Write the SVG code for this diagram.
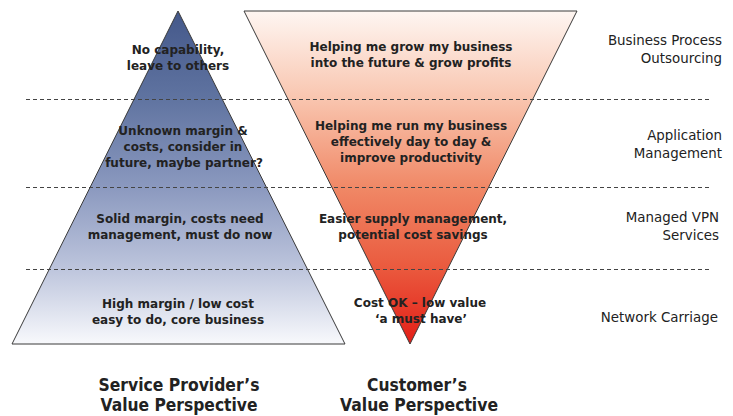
<svg xmlns="http://www.w3.org/2000/svg" width="733" height="416" viewBox="0 0 733 416">
  <defs>
    <linearGradient id="gradProvider" x1="0" y1="11" x2="0" y2="344" gradientUnits="userSpaceOnUse">
      <stop offset="0" stop-color="#44588a"/>
      <stop offset="0.26" stop-color="#5f73a0"/>
      <stop offset="0.53" stop-color="#8b99bf"/>
      <stop offset="0.77" stop-color="#bcc4dc"/>
      <stop offset="1" stop-color="#f8f9fc"/>
    </linearGradient>
    <linearGradient id="gradCustomer" x1="0" y1="11" x2="0" y2="344" gradientUnits="userSpaceOnUse">
      <stop offset="0" stop-color="#fef6f2"/>
      <stop offset="0.26" stop-color="#f9c6b0"/>
      <stop offset="0.53" stop-color="#f08866"/>
      <stop offset="0.77" stop-color="#ea5a3e"/>
      <stop offset="1" stop-color="#e31e17"/>
    </linearGradient>
    <style>
      .tri { stroke: #3a3a3a; stroke-width: 1; }
      .dash { stroke: #444; stroke-width: 1; stroke-dasharray: 4 3; fill: none; }
      .lbl { font-family: "DejaVu Sans", Verdana, sans-serif; font-weight: bold; font-size: 12px; fill: #222; text-anchor: middle; }
      .side { font-family: "DejaVu Sans", Verdana, sans-serif; font-size: 13.4px; fill: #222; text-anchor: end; }
      .title { font-family: "DejaVu Sans", Verdana, sans-serif; font-weight: bold; font-size: 17.5px; fill: #222; text-anchor: middle; }
    </style>
  </defs>

  <rect width="733" height="416" fill="#ffffff"/>

  <!-- pyramids -->
  <g id="provider-pyramid">
    <polygon class="tri" points="178,11 345,344 12,344" fill="url(#gradProvider)"/>
  </g>
  <g id="customer-pyramid">
    <polygon class="tri" points="244,11 577,11 410,344" fill="url(#gradCustomer)"/>
  </g>

  <!-- tier separators -->
  <g id="connectors">
    <line class="dash" x1="26" y1="99.5" x2="710" y2="99.5"/>
    <line class="dash" x1="26" y1="187.5" x2="710" y2="187.5"/>
    <line class="dash" x1="26" y1="269.5" x2="710" y2="269.5"/>
  </g>

  <!-- provider tier labels -->
  <g id="p-tier1">
    <text class="lbl" x="178" y="54">No capability,</text>
    <text class="lbl" x="178" y="70">leave to others</text>
  </g>
  <g id="p-tier2">
    <text class="lbl" x="183" y="135">Unknown margin &amp;</text>
    <text class="lbl" x="183" y="151">costs, consider in</text>
    <text class="lbl" x="184" y="167">future, maybe partner?</text>
  </g>
  <g id="p-tier3">
    <text class="lbl" x="180" y="223">Solid margin, costs need</text>
    <text class="lbl" x="180" y="239">management, must do now</text>
  </g>
  <g id="p-tier4">
    <text class="lbl" x="178" y="308">High margin / low cost</text>
    <text class="lbl" x="178" y="324">easy to do, core business</text>
  </g>

  <!-- customer tier labels -->
  <g id="c-tier1">
    <text class="lbl" x="411" y="51">Helping me grow my business</text>
    <text class="lbl" x="411" y="67">into the future &amp; grow profits</text>
  </g>
  <g id="c-tier2">
    <text class="lbl" x="411" y="130">Helping me run my business</text>
    <text class="lbl" x="411" y="146">effectively day to day &amp;</text>
    <text class="lbl" x="411" y="162">improve productivity</text>
  </g>
  <g id="c-tier3">
    <text class="lbl" x="413" y="223">Easier supply management,</text>
    <text class="lbl" x="413" y="239">potential cost savings</text>
  </g>
  <g id="c-tier4">
    <text class="lbl" x="420" y="307">Cost OK – low value</text>
    <text class="lbl" x="421" y="323">‘a must have’</text>
  </g>

  <!-- service tiers -->
  <g id="tier-bpo">
    <text class="side" x="722" y="45">Business Process</text>
    <text class="side" x="722" y="63">Outsourcing</text>
  </g>
  <g id="tier-app">
    <text class="side" x="722" y="140">Application</text>
    <text class="side" x="722" y="158">Management</text>
  </g>
  <g id="tier-vpn">
    <text class="side" x="719" y="222">Managed VPN</text>
    <text class="side" x="719" y="240">Services</text>
  </g>
  <g id="tier-carriage">
    <text class="side" x="718" y="322">Network Carriage</text>
  </g>

  <!-- perspective titles -->
  <g id="title-provider">
    <text class="title" x="179" y="391" textLength="161" lengthAdjust="spacingAndGlyphs">Service Provider’s</text>
    <text class="title" x="179" y="411" textLength="157" lengthAdjust="spacingAndGlyphs">Value Perspective</text>
  </g>
  <g id="title-customer">
    <text class="title" x="417" y="391" textLength="100" lengthAdjust="spacingAndGlyphs">Customer’s</text>
    <text class="title" x="419" y="411" textLength="158" lengthAdjust="spacingAndGlyphs">Value Perspective</text>
  </g>
</svg>
